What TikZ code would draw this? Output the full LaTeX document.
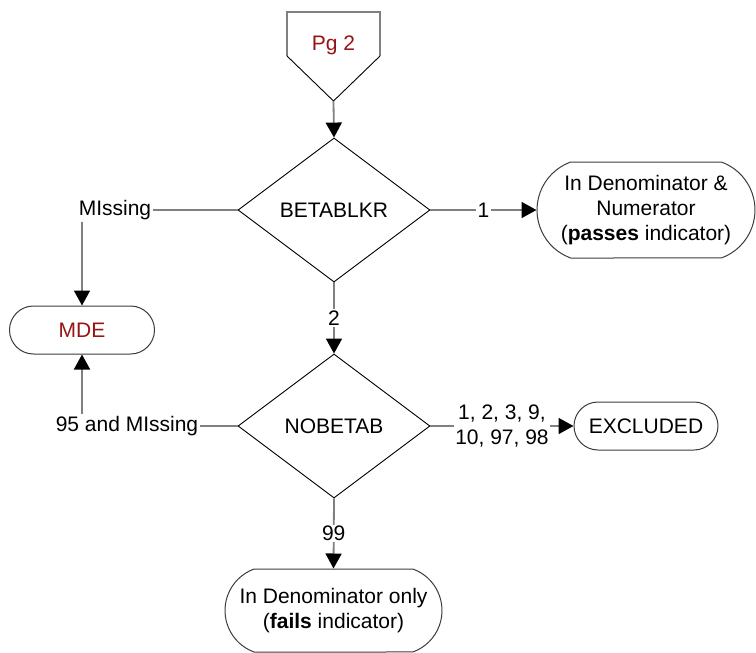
\documentclass[tikz,border=0pt]{standalone}
\usepackage{fontspec}
\setmainfont{Liberation Sans}
\usetikzlibrary{shapes.geometric,shapes.misc,arrows.meta}
\definecolor{dred}{RGB}{150,20,20}
\definecolor{cgray}{RGB}{128,128,128}
\definecolor{sgray}{RGB}{60,60,60}
\tikzset{
  conn/.style={draw=cgray,line width=1.8pt},
  arr/.style={-{Triangle[length=15pt,width=16pt,color=black]}},
  dec/.style={diamond,draw=black,line width=0.9pt,minimum width=192pt,minimum height=144pt,inner sep=0pt,aspect=1.333},
  term/.style={rounded rectangle,draw=sgray,line width=1pt,inner sep=0pt,align=center},
  lbl/.style={fill=white,inner sep=1.5pt,align=center},
  txt/.style={inner sep=2pt,align=center}
}
\begin{document}
\begin{tikzpicture}[x=1pt,y=-1pt,font=\fontsize{21}{25}\selectfont]
\useasboundingbox (0,0) rectangle (756,653);
% off-page connector
\coordinate (pgtl) at (287,12);
\coordinate (pgtr) at (380,12);
\coordinate (pgl) at (287,56);
\coordinate (pgr) at (380,56);
\coordinate (pgtip) at (333.5,101);
\draw[conn] (pgl) -- (pgtl) -- (pgtr) -- (pgr);
\draw[black,line width=0.9pt] (pgl) -- (pgtip) -- (pgr);
\node[txt,text=dred] (pg) at (333.5,45) {Pg 2};
% decisions
\node[dec] (d1) at (334,210) {BETABLKR};
\node[dec] (d2) at (334,426) {NOBETAB};
% terminals
\node[term,text=dred,minimum width=145pt,minimum height=48pt] (mde) at (82,330) {MDE};
\node[term,rounded rectangle arc length=140,minimum width=218pt,minimum height=96pt] (t1) at (646,210) {In Denominator \&\\Numerator\\(\textbf{passes} indicator)};
\node[term,minimum width=144pt,minimum height=48pt] (ex) at (646,426) {EXCLUDED};
\node[term,rounded rectangle arc length=140,minimum width=217pt,minimum height=83pt] (t2) at (333.5,610.5) {In Denominator only\\(\textbf{fails} indicator)};
% side labels
\node[txt] (miss) at (115,210) {MIssing};
\node[txt] (m95) at (127,426) {95 and MIssing};
% connectors
\draw[conn,arr] (pgtip) -- (d1.north);
\draw[conn] (d1.west) -- (d1.west -| miss.east);
\draw[conn,arr] (mde.north |- miss.south) -- (mde.north);
\draw[conn,arr] (d1.east) -- node[lbl] (l1) {1} (t1.west);
\draw[conn,arr] (d1.south) -- node[lbl] (l2) {2} (d2.north);
\draw[conn] (d2.west) -- (d2.west -| m95.east);
\draw[conn,arr] (mde.south |- m95.north) -- (mde.south);
\draw[conn,arr] (d2.east) -- node[lbl] (l3) {1, 2, 3, 9,\\10, 97, 98} (ex.west);
\draw[conn,arr] (d2.south) -- node[lbl] (l4) {99} (t2.north);
\end{tikzpicture}
\end{document}
